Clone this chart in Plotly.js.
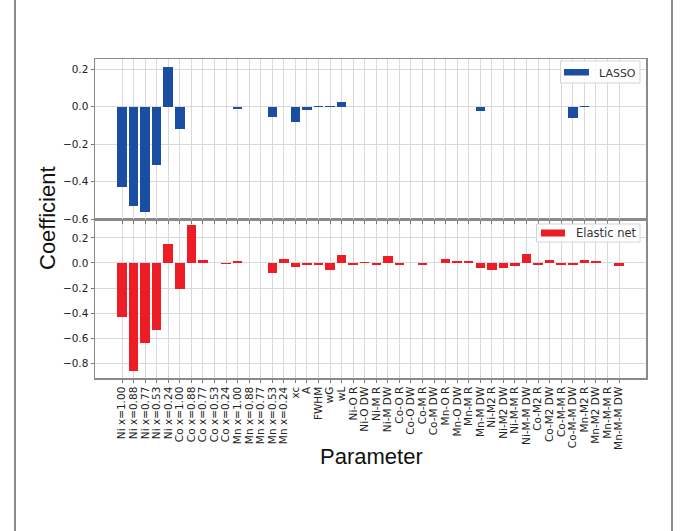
<!DOCTYPE html>
<html>
<head>
<meta charset="utf-8">
<script src="https://cdn.plot.ly/plotly-3.0.1.min.js"></script>
<style>
  html, body { margin: 0; padding: 0; background: #fff; }
  #wrap { position: relative; width: 687px; height: 531px; overflow: hidden; }
  #chart { position: absolute; left: 0; top: 0; width: 687px; height: 531px; }
  .frame { position: absolute; top: 0; width: 2px; height: 531px; background: #8c8c8c; }
</style>
</head>
<body>
<div id="wrap">
  <div id="chart"></div>
  <div class="frame" style="left:14px"></div>
  <div class="frame" style="left:671px"></div>
</div>
<script>
// ---- data ----
const parameters = [
  "Ni x=1.00","Ni x=0.88","Ni x=0.77","Ni x=0.53","Ni x=0.24",
  "Co x=1.00","Co x=0.88","Co x=0.77","Co x=0.53","Co x=0.24",
  "Mn x=1.00","Mn x=0.88","Mn x=0.77","Mn x=0.53","Mn x=0.24",
  "xc","A","FWHM","wG","wL",
  "Ni-O R","Ni-O DW","Ni-M R","Ni-M DW",
  "Co-O R","Co-O DW","Co-M R","Co-M DW",
  "Mn-O R","Mn-O DW","Mn-M R","Mn-M DW",
  "Ni-M2 R","Ni-M2 DW","Ni-M-M R","Ni-M-M DW",
  "Co-M2 R","Co-M2 DW","Co-M-M R","Co-M-M DW",
  "Mn-M2 R","Mn-M2 DW","Mn-M-M R","Mn-M-M DW"
];
const lassoCoef = [
  -0.43, -0.53, -0.56, -0.31, 0.21,
  -0.12, 0, 0, 0, 0,
  -0.012, 0, 0, -0.053, 0,
  -0.084, -0.018, 0.003, 0.003, 0.025,
  0, 0, 0, 0,
  0, 0, -0.004, 0,
  0, 0, 0, -0.022,
  0, 0, 0, 0,
  0, 0, 0, -0.062,
  0.005, 0, -0.003, 0
];
const elasticCoef = [
  -0.43, -0.865, -0.635, -0.535, 0.15,
  -0.21, 0.30, 0.02, 0.003, -0.01,
  0.015, 0.003, 0.003, -0.078, 0.032,
  -0.032, -0.019, -0.019, -0.054, 0.067,
  -0.019, 0.005, -0.013, 0.054,
  -0.013, 0.003, -0.016, 0,
  0.032, 0.013, 0.019, -0.04,
  -0.059, -0.04, -0.027, 0.07,
  -0.019, 0.024, -0.013, -0.019,
  0.021, 0.013, 0, -0.021
];
const topTicks = [0.2, 0.0, -0.2, -0.4, -0.6];
const bottomTicks = [0.2, 0.0, -0.2, -0.4, -0.6, -0.8];

// ---- layout geometry (pixels) ----
const W = 687, H = 531;
const L = 95, R = 646, T = 59, B = 378;
const split = 219.3;
const px = v => (v - L) / (R - L);
const py = v => (B - v) / (B - T);

const blue = "#1a4ea3", red = "#ee1d25";
const gridC = "#d9d9d9", spineC = "#8a8a8a";
const tickFont = {family: "DejaVu Sans", size: 10.5, color: "#222"};

const traces = [
  {type: "bar", x: parameters, y: lassoCoef, xaxis: "x2", yaxis: "y2", name: "LASSO",
   width: 0.82, marker: {color: blue, line: {width: 0}}, showlegend: false},
  {type: "bar", x: parameters, y: elasticCoef, xaxis: "x", yaxis: "y", name: "Elastic net",
   width: 0.82, marker: {color: red, line: {width: 0}}, showlegend: false}
];

const common = {
  showgrid: true, gridcolor: gridC, gridwidth: 1,
  showline: true, linecolor: spineC, linewidth: 1.5, mirror: true,
  ticks: "outside", ticklen: 3, tickcolor: "#777", zeroline: false
};

const layout = {
  width: W, height: H,
  margin: {l: L, r: W - R, t: T, b: H - B, pad: 0},
  paper_bgcolor: "#fff", plot_bgcolor: "#fff",
  showlegend: false,
  bargap: 0,
  xaxis: Object.assign({}, common, {
    type: "category", anchor: "y", domain: [0, 1],
    range: [-2.336, 45.336], tickangle: -90,
    tickmode: "array", tickvals: parameters, ticktext: parameters,
    tickfont: {family: "DejaVu Sans", size: 10.5, color: "#222"}
  }),
  xaxis2: Object.assign({}, common, {
    type: "category", anchor: "y2", matches: "x", domain: [0, 1],
    range: [-2.336, 45.336], tickmode: "array", tickvals: parameters,
    showticklabels: false
  }),
  yaxis: Object.assign({}, common, {
    anchor: "x", domain: [0, py(split)], range: [-0.917, 0.348],
    tickvals: bottomTicks, tickformat: ".1f", tickfont: tickFont
  }),
  yaxis2: Object.assign({}, common, {
    anchor: "x2", domain: [py(split), 1], range: [-0.6, 0.254],
    tickvals: topTicks, tickformat: ".1f", tickfont: tickFont
  }),
  shapes: [
    // LASSO legend frame and swatch
    {type: "rect", xref: "paper", yref: "paper", x0: px(560.5), x1: px(640), y0: py(83), y1: py(61),
     fillcolor: "rgba(255,255,255,0.85)", line: {color: "#d4d4d4", width: 1}},
    {type: "rect", xref: "paper", yref: "paper", x0: px(564), x1: px(589), y0: py(75.5), y1: py(69),
     fillcolor: blue, line: {width: 0}},
    // Elastic net legend frame and swatch
    {type: "rect", xref: "paper", yref: "paper", x0: px(536.5), x1: px(640), y0: py(242), y1: py(224),
     fillcolor: "rgba(255,255,255,0.85)", line: {color: "#d4d4d4", width: 1}},
    {type: "rect", xref: "paper", yref: "paper", x0: px(541), x1: px(565), y0: py(236.5), y1: py(229.5),
     fillcolor: red, line: {width: 0}}
  ],
  annotations: [
    {xref: "paper", yref: "paper", x: px(597), y: py(73), xanchor: "left", yanchor: "middle",
     text: "LASSO", showarrow: false, font: {family: "DejaVu Sans", size: 11, color: "#333"}},
    {xref: "paper", yref: "paper", x: px(574), y: py(233), xanchor: "left", yanchor: "middle",
     text: "Elastic net", showarrow: false, font: {family: "DejaVu Sans", size: 11.5, color: "#333"}},
    {xref: "paper", yref: "paper", x: px(47), y: py(218), xanchor: "center", yanchor: "middle",
     text: "Coefficient", textangle: -90, showarrow: false,
     font: {family: "Liberation Sans", size: 22, color: "#111"}},
    {xref: "paper", yref: "paper", x: px(371), y: py(456), xanchor: "center", yanchor: "middle",
     text: "Parameter", showarrow: false,
     font: {family: "Liberation Sans", size: 22, color: "#111"}}
  ]
};

Plotly.newPlot("chart", traces, layout, {displayModeBar: false, staticPlot: true});
</script>
</body>
</html>
